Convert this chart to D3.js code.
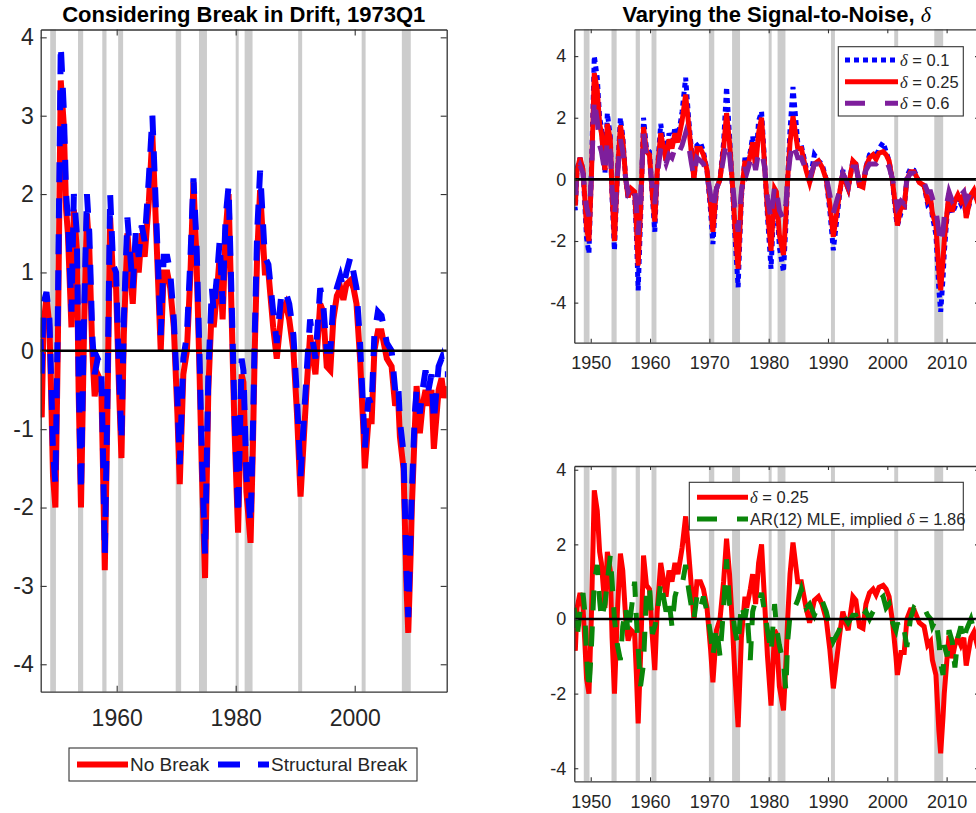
<!DOCTYPE html>
<html>
<head>
<meta charset="utf-8">
<title>Considering Break in Drift / Varying the Signal-to-Noise</title>
<script src="https://cdn.jsdelivr.net/npm/d3@7"></script>
<style>
  body { margin: 0; background: #fff; }
  svg text { font-family: "Liberation Sans", Arial, Helvetica, sans-serif; fill: #262626; }
  .title { font-weight: bold; fill: #000; }
  .greek { font-family: "Liberation Serif", "Times New Roman", serif; font-style: italic; font-weight: normal; }
</style>
</head>
<body>
<script>
// quarterly turning points (shared date grid for every series)
const years = [1947.2, 1947.4, 1947.7, 1948.2, 1948.7, 1949.0, 1949.3, 1949.7, 1950.1, 1950.6,
  1951.1, 1951.5, 1951.8, 1952.4, 1952.8, 1953.3, 1953.6, 1954.0, 1954.5, 1955.0,
  1955.4, 1955.9, 1956.3, 1956.8, 1957.4, 1957.7, 1958.0, 1958.4, 1958.9, 1959.4,
  1959.9, 1960.4, 1960.8, 1961.2, 1961.8, 1962.7, 1963.2, 1963.7, 1964.2, 1964.7,
  1965.4, 1966.0, 1966.5, 1967.0, 1967.4, 1967.9, 1968.5, 1969.0, 1969.6, 1970.2,
  1970.6, 1971.2, 1971.8, 1972.4, 1972.9, 1973.4, 1973.9, 1974.3, 1974.85, 1975.4,
  1976.0, 1976.3, 1976.9, 1977.3, 1977.8, 1978.3, 1978.8, 1979.3, 1979.8, 1980.4,
  1981.0, 1981.3, 1981.8, 1982.5, 1982.9, 1983.2, 1983.6, 1984.1, 1984.9, 1985.5,
  1986.3, 1986.9, 1987.7, 1988.4, 1989.0, 1989.7, 1990.3, 1990.9, 1991.9, 1992.5,
  1993.0, 1993.4, 1994.2, 1994.7, 1995.3, 1995.9, 1996.4, 1997.0, 1997.6, 1998.1,
  1998.6, 1999.3, 1999.8, 2000.3, 2000.9, 2001.45, 2001.7, 2002.3, 2002.85, 2003.3,
  2003.9, 2004.5, 2005.4, 2006.2, 2006.8, 2007.3, 2007.6, 2008.2, 2008.7, 2009.0,
  2009.4, 2009.6, 2010.1, 2010.4, 2010.95, 2011.4, 2011.9, 2012.4, 2012.9, 2013.3,
  2014.1, 2014.6, 2015.0, 2015.4];

// "No Break" = delta 0.25 (red)
const noBreak = [-0.45, -0.85, 0.3, 0.7, 0.3, -0.6, -1.6, -2.0, 0.0, 3.45,
  2.9, 1.8, 1.5, 0.3, 1.8, 1.3, -0.5, -2.0, 0.2, 1.75,
  1.3, 0.0, -0.58, -0.3, -0.4, -1.5, -2.8, -1.0, 1.7, 0.9,
  0.8, -0.5, -1.37, 0.2, 1.5, 0.6, 1.3, 1.0, 1.5, 1.2,
  1.9, 2.75, 1.8, 0.8, 0.0, 1.0, 1.0, 0.8, 0.3, -0.8,
  -1.7, -0.3, 0.0, 1.0, 2.15, 1.2, -0.2, -1.5, -2.9, -0.5,
  0.6, 0.3, 0.8, 1.2, 0.4, 1.5, 2.0, 0.5, -1.0, -2.32,
  -0.3, -0.4, -1.8, -2.45, -1.2, 0.0, 1.2, 2.05, 1.0, 1.0,
  0.3, -0.1, 0.5, 0.6, 0.4, 0.0, -0.8, -1.86, -0.5, 0.2,
  -0.1, -0.3, 0.6, 0.5, -0.2, -0.25, 0.4, 0.7, 0.8, 0.65,
  0.85, 0.9, 0.8, 0.6, -0.1, -1.0, -1.5, -0.9, -0.9, 0.0,
  0.25, 0.25, -0.1, -0.2, -0.7, -0.6, -1.1, -1.5, -3.0, -3.6,
  -2.6, -2.0, -1.0, -0.45, -1.05, -0.7, -0.5, -0.7, -0.5, -1.25,
  -0.5, -0.35, -0.6, -0.45];

// "Structural Break" (blue dashed, left panel)
const structBreak = [0.15, -0.3, 0.6, 0.75, 0.4, -0.4, -1.3, -1.7, 0.4, 3.9,
  3.1, 2.0, 1.7, 0.5, 2.0, 1.5, -0.3, -1.8, 0.4, 2.0,
  1.5, 0.2, -0.3, -0.1, -0.2, -1.3, -2.6, -0.8, 2.0, 1.1,
  1.0, -0.3, -1.15, 0.4, 1.7, 0.8, 1.5, 1.2, 1.6, 1.4,
  2.2, 3.0, 2.0, 1.0, 0.2, 1.2, 1.2, 1.0, 0.4, -0.6,
  -1.45, -0.1, 0.2, 1.2, 2.2, 1.4, 0.0, -1.3, -2.6, -0.3,
  0.8, 0.5, 1.0, 1.4, 0.6, 1.7, 2.1, 0.7, -0.8, -2.1,
  -0.1, -0.25, -1.6, -2.2, -1.0, 0.2, 1.5, 2.3, 1.2, 1.1,
  0.5, 0.1, 0.75, 0.75, 0.6, 0.2, -0.6, -1.6, -0.3, 0.4,
  0.1, -0.1, 0.8, 0.6, 0.0, 0.0, 0.6, 0.8, 0.95, 0.8,
  1.0, 1.2, 1.0, 0.8, 0.1, -0.8, -1.25, -0.6, -0.7, 0.2,
  0.5, 0.45, 0.1, 0.0, -0.5, -0.4, -0.9, -1.3, -2.8, -3.4,
  -2.3, -1.8, -0.8, -0.5, -0.8, -0.5, -0.25, -0.5, -0.3, -0.9,
  -0.2, -0.1, -0.3, -0.3];

// delta = 0.1 (blue dotted, top right)
const delta01 = [-0.6, -1.0, 0.35, 0.7, 0.3, -0.8, -1.9, -2.4, 0.2, 4.0,
  3.3, 2.0, 1.7, 0.2, 2.15, 1.4, -0.6, -2.3, 0.2, 2.0,
  1.4, 0.0, -0.6, -0.3, -0.5, -1.8, -3.6, -1.3, 2.0, 1.0,
  0.9, -0.6, -1.7, 0.2, 1.8, 0.6, 1.5, 1.1, 1.7, 1.3,
  2.2, 3.3, 2.0, 0.9, 0.0, 1.1, 1.2, 0.9, 0.3, -1.0,
  -2.1, -0.3, 0.0, 1.2, 3.0, 1.4, -0.3, -1.8, -3.5, -0.6,
  0.7, 0.4, 0.9, 1.4, 0.5, 1.9, 2.2, 0.6, -1.2, -2.9,
  -0.3, -0.5, -2.2, -3.0, -1.5, 0.0, 1.6, 3.0, 1.2, 1.1,
  0.4, -0.1, 0.8, 0.6, 0.5, 0.0, -1.0, -2.3, -0.6, 0.3,
  -0.1, -0.3, 0.6, 0.5, -0.2, -0.2, 0.4, 0.8, 0.9, 0.7,
  1.0, 1.2, 0.9, 0.6, -0.1, -1.2, -1.5, -1.1, -1.0, 0.1,
  0.35, 0.3, -0.1, -0.2, -0.8, -0.7, -1.2, -1.8, -3.6, -4.3,
  -3.2, -2.4, -1.1, -0.6, -1.1, -0.9, -0.6, -0.8, -0.6, -1.2,
  -0.6, -0.4, -0.7, -0.5];

// delta = 0.6 (purple dashed, top right)
const delta06 = [-0.3, -0.5, 0.2, 0.45, 0.2, -0.4, -0.9, -1.2, 0.0, 2.6,
  1.9, 1.1, 0.9, 0.2, 1.3, 0.9, -0.3, -1.2, 0.1, 1.3,
  0.9, 0.0, -0.4, -0.2, -0.2, -0.9, -1.8, -0.6, 1.5, 0.7,
  0.6, -0.3, -0.8, 0.1, 1.0, 0.5, 0.8, 0.7, 1.0, 0.8,
  1.1, 1.5, 1.1, 0.5, 0.1, 0.7, 0.6, 0.5, 0.2, -0.5,
  -1.0, -0.3, 0.0, 0.7, 1.2, 0.8, -0.1, -0.9, -1.7, -0.4,
  0.4, 0.2, 0.6, 0.8, 0.3, 0.9, 0.9, 0.4, -0.6, -1.3,
  -0.2, -0.3, -1.0, -1.3, -0.8, 0.0, 0.7, 1.2, 0.7, 0.7,
  0.3, 0.0, 0.5, 0.5, 0.3, 0.1, -0.5, -1.1, -0.4, 0.2,
  0.0, -0.2, 0.4, 0.4, -0.1, -0.2, 0.3, 0.5, 0.5, 0.5,
  0.6, 0.7, 0.6, 0.4, 0.0, -0.6, -0.9, -0.7, -0.8, 0.0,
  0.2, 0.2, -0.1, -0.1, -0.4, -0.4, -0.6, -1.0, -1.7, -2.1,
  -1.7, -1.2, -0.7, -0.4, -0.7, -0.6, -0.4, -0.5, -0.4, -0.7,
  -0.4, -0.3, -0.5, -0.4];

// AR(12) MLE, implied delta = 1.86 (green dashed, bottom right)
const ar12 = [0.3, 0.0, -0.5, 0.2, 0.7, 0.2, -1.0, -1.9, -0.8, 1.0,
  1.45, 0.5, 0.0, 0.4, 1.0, 1.7, 1.0, 0.0, -0.7, -1.1,
  -0.2, 0.3, -0.4, 0.2, 1.0, 0.0, -0.8, -1.8, -1.2, 0.7,
  0.9, -0.4, -0.2, 0.1, 1.0, 0.2, 0.5, -0.2, 0.6, 0.9,
  0.9, 1.45, 0.8, 0.3, 0.0, 0.6, 0.3, 0.6, 0.2, -0.4,
  -1.0, -0.2, -1.0, 0.3, 1.6, 0.4, 0.2, -0.3, -0.7, 0.4,
  0.0, 0.3, -1.1, 0.2, 0.5, 0.4, 0.7, 0.2, -0.3, -0.9,
  0.4, -0.2, -0.7, -1.2, -1.9, -0.6, 0.1, 0.2, 0.5, 0.8,
  0.3, 0.4, 0.1, 0.4, 0.5, 0.2, -0.2, -0.6, -0.3, 0.1,
  0.0, -0.1, 0.1, 0.1, -0.1, 0.1, 0.2, 0.0, 0.2, 0.3,
  0.5, 0.6, 0.3, 0.4, -0.1, -0.3, -0.1, -0.4, -0.3, -0.75,
  0.0, 0.3, 0.2, 0.3, 0.1, 0.0, -0.2, 0.0, -0.6, -1.2,
  -1.5, -0.7, -1.0, -0.3, -0.6, -1.3, -0.5, -0.2, -0.6, -0.3,
  0.0, -0.3, -0.2, -0.3];

// NBER recessions (peak month, trough month)
const recessionStart = [1948.83, 1953.5, 1957.58, 1960.25, 1969.92, 1973.83, 1980.0, 1981.5, 1990.5, 2001.17, 2007.92];
const recessionEnd   = [1949.79, 1954.37, 1958.29, 1961.08, 1970.83, 1975.17, 1980.5, 1982.83, 1991.17, 2001.83, 2009.42];

const leftXTicks = [1960, 1980, 2000];
const leftYTicks = [-4, -3, -2, -1, 0, 1, 2, 3, 4];
const rightXTicks = [1950, 1960, 1970, 1980, 1990, 2000, 2010];
const rightYTicks = [-4, -2, 0, 2, 4];

const xDomain = [1947.23, 2015.46];
const W = 976, H = 813;

const svg = d3.select('body').append('svg')
    .attr('width', W)
    .attr('height', H);

const line = (x, y) => d3.line()
    .x((d, i) => x(years[i]))
    .y(d => y(d));

function drawPanel(p, id) {
    const x = d3.scaleLinear().domain(xDomain).range([p.left, p.right]);
    const y = d3.scaleLinear().domain(p.yDomain).range([p.bottom, p.top]);
    const g = svg.append('g');

    g.append('clipPath').attr('id', 'clip' + id)
      .append('rect')
        .attr('x', p.left).attr('y', p.top)
        .attr('width', p.right - p.left).attr('height', p.bottom - p.top);

    // recession shading
    g.append('g').selectAll('rect')
        .data(recessionStart)
        .join('rect')
        .attr('x', d => x(d))
        .attr('width', (d, i) => x(recessionEnd[i]) - x(d))
        .attr('y', p.top)
        .attr('height', p.bottom - p.top)
        .attr('fill', '#cccccc');

    // series
    p.series.forEach(s => {
        g.append('path')
            .datum(s.values)
            .attr('d', line(x, y))
            .attr('fill', 'none')
            .attr('stroke', s.color)
            .attr('stroke-width', s.width)
            .attr('stroke-dasharray', s.dash || null)
            .attr('clip-path', 'url(#clip' + id + ')');
    });

    // zero line
    g.append('line')
        .attr('x1', p.left).attr('x2', p.right)
        .attr('y1', y(0)).attr('y2', y(0))
        .attr('stroke', '#000')
        .attr('stroke-width', 2.6);

    const styleAxis = sel => {
        sel.attr('font-size', p.fs)
           .attr('font-family', '"Liberation Sans", Arial, sans-serif')
           .attr('color', '#333333');
        sel.select('.domain').attr('stroke-width', 1.3);
        sel.selectAll('.tick line').attr('stroke-width', 1.1);
    };

    g.append('g')
        .attr('transform', 'translate(0,' + p.bottom + ')')
        .call(d3.axisBottom(x).tickValues(p.xTicks).tickSize(-p.tick).tickSizeOuter(0)
            .tickPadding(p.xPad).tickFormat(d => String(d)))
        .call(styleAxis);
    g.append('g')
        .attr('transform', 'translate(0,' + p.top + ')')
        .call(d3.axisTop(x).tickValues(p.xTicks).tickSize(-p.tick).tickSizeOuter(0).tickFormat(''))
        .call(styleAxis);
    g.append('g')
        .attr('transform', 'translate(' + p.left + ',0)')
        .call(d3.axisLeft(y).tickValues(p.yTicks).tickSize(-p.tick).tickSizeOuter(0)
            .tickPadding(p.yPad).tickFormat(d => String(d)))
        .call(styleAxis);
    g.append('g')
        .attr('transform', 'translate(' + p.right + ',0)')
        .call(d3.axisRight(y).tickValues(p.yTicks).tickSize(-p.tick).tickSizeOuter(0).tickFormat(''))
        .call(styleAxis);

    // title
    if (p.title) {
        const t = svg.append('text')
            .attr('class', 'title')
            .attr('x', (p.left + p.right) / 2)
            .attr('y', 22)
            .attr('text-anchor', 'middle')
            .attr('font-size', 22);
        t.append('tspan').text(p.title);
        if (p.titleGreek) t.append('tspan').attr('class', 'greek').text(p.titleGreek);
    }

    // legend
    const L = p.legend;
    svg.append('rect')
        .attr('x', L.x).attr('y', L.y).attr('width', L.w).attr('height', L.h)
        .attr('fill', '#fff').attr('stroke', '#333333').attr('stroke-width', 1.1);
    L.items.forEach(it => {
        const s = p.series[it.s];
        svg.append('line')
            .attr('x1', it.x).attr('x2', it.x + L.len)
            .attr('y1', it.y).attr('y2', it.y)
            .attr('stroke', s.color)
            .attr('stroke-width', s.width)
            .attr('stroke-dasharray', s.legendDash || s.dash || null);
        const t = svg.append('text')
            .attr('x', it.x + L.len + 2)
            .attr('y', it.y + L.fs * 0.36)
            .attr('font-size', L.fs)
            .attr('fill', '#000');
        if (it.pre) t.append('tspan').text(it.pre);
        if (it.greek) t.append('tspan').attr('class', 'greek').text(it.greek);
        t.append('tspan').text(it.label);
    });
}

drawPanel({
    left: 40.7, right: 446.7, top: 29.5, bottom: 691.7,
    yDomain: [-4.35, 4.1], xTicks: leftXTicks, yTicks: leftYTicks,
    fs: 23, tick: 6, xPad: 18, yPad: 7,
    title: 'Considering Break in Drift, 1973Q1',
    series: [
        { values: noBreak, color: '#ff0000', width: 6 },
        { values: structBreak, color: '#0000ff', width: 6, dash: '20,16', legendDash: '22,18' }
    ],
    legend: { x: 69, y: 748, w: 348, h: 33, len: 51, fs: 19,
        items: [ { s: 0, x: 77, y: 764.5, label: 'No Break' },
                 { s: 1, x: 218, y: 764.5, label: 'Structural Break' } ] }
}, 'a');

drawPanel({
    left: 574.3, right: 979, top: 29.3, bottom: 342.7,
    yDomain: [-5.3, 4.87], xTicks: rightXTicks, yTicks: rightYTicks,
    fs: 18, tick: 4, xPad: 14, yPad: 8,
    title: 'Varying the Signal-to-Noise, ', titleGreek: 'δ',
    series: [
        { values: delta01, color: '#0000ff', width: 5, dash: '5,4' },
        { values: noBreak, color: '#ff0000', width: 5 },
        { values: delta06, color: '#7e1e9c', width: 5, dash: '20,16', legendDash: '20,20' }
    ],
    legend: { x: 838.3, y: 46.7, w: 125, h: 69.3, len: 53, fs: 16.5,
        items: [ { s: 0, x: 845, y: 60, greek: 'δ', label: ' = 0.1' },
                 { s: 1, x: 845, y: 81.7, greek: 'δ', label: ' = 0.25' },
                 { s: 2, x: 845, y: 103.3, greek: 'δ', label: ' = 0.6' } ] }
}, 'b');

drawPanel({
    left: 574.3, right: 979, top: 466, bottom: 781.3,
    yDomain: [-4.35, 4.1], xTicks: rightXTicks, yTicks: rightYTicks,
    fs: 18, tick: 4, xPad: 14, yPad: 8,
    series: [
        { values: noBreak, color: '#ff0000', width: 5 },
        { values: ar12, color: '#0a860a', width: 5, dash: '20,16', legendDash: '20,20' }
    ],
    legend: { x: 689.3, y: 482.3, w: 274, h: 47.7, len: 51, fs: 16.5,
        items: [ { s: 0, x: 697, y: 497.3, greek: 'δ', label: ' = 0.25' },
                 { s: 1, x: 697, y: 519, pre: 'AR(12) MLE, implied ', greek: 'δ', label: ' = 1.86' } ] }
}, 'c');
</script>
</body>
</html>
